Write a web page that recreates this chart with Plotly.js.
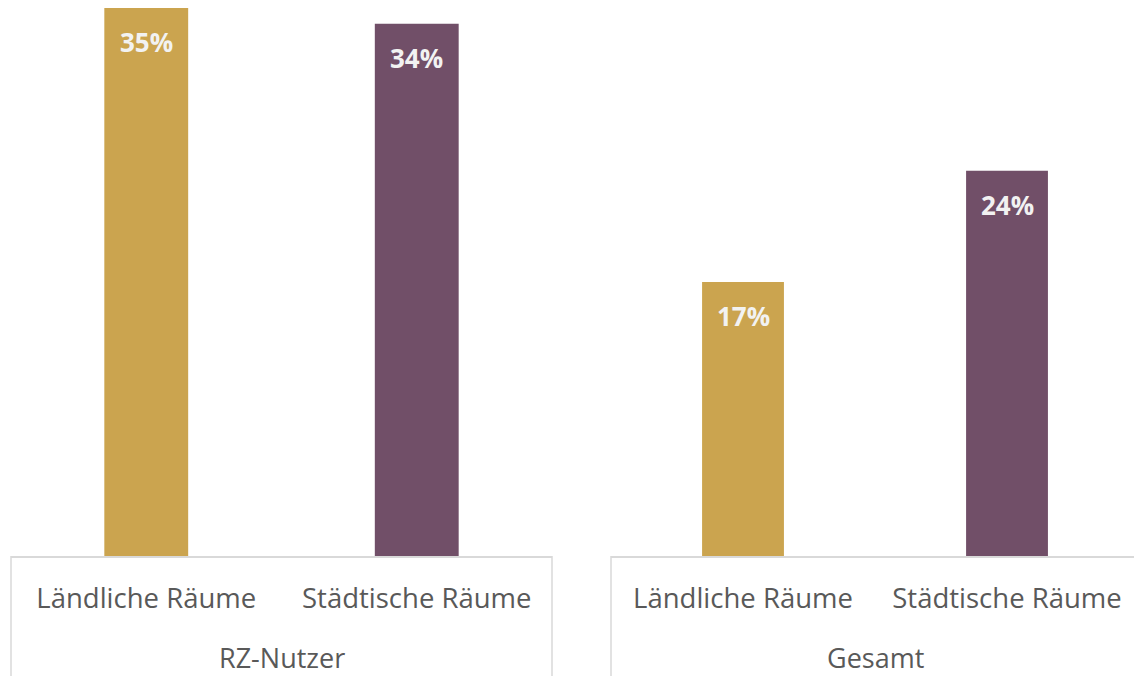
<!DOCTYPE html>
<html>
<head>
<meta charset="utf-8">
<script src="https://cdn.plot.ly/plotly-3.0.1.min.js"></script>
<style>html,body{margin:0;padding:0;background:#fff;}#chart{width:1134px;height:676px;}</style>
</head>
<body>
<div id="chart"></div>
<script>
const groups = ["RZ-Nutzer", "Gesamt"];
const categories = ["Ländliche Räume", "Städtische Räume"];
const valuesRZ = [35, 34];
const valuesGesamt = [17.5, 24.6];
const labelsRZ = ["35%", "34%"];
const labelsGesamt = ["17%", "24%"];
const barColors = ["#CBA44F", "#714F68"];

const FONT = "Open Sans, Noto Sans, sans-serif";

const traces = [
  {type: "bar", x: categories, y: valuesRZ, xaxis: "x", yaxis: "y",
   marker: {color: barColors}, width: 0.31, hoverinfo: "skip"},
  {type: "bar", x: categories, y: valuesGesamt, xaxis: "x2", yaxis: "y",
   marker: {color: barColors}, width: 0.31, hoverinfo: "skip"}
];

const annotations = [];
[[valuesRZ, labelsRZ, "x"], [valuesGesamt, labelsGesamt, "x2"]].forEach(([vals, labs, xr]) => {
  vals.forEach((v, i) => {
    annotations.push({xref: xr, yref: "y", x: i, y: v, text: "<b>" + labs[i] + "</b>",
      showarrow: false, yanchor: "middle", yshift: -34,
      font: {family: FONT, size: 26, color: "#F2F2F2"}});
  });
});
groups.forEach((g, k) => {
  annotations.push({xref: k === 0 ? "x" : "x2", yref: "paper", x: 0.5, y: 0, yshift: -101,
    text: g, showarrow: false, yanchor: "middle",
    font: {family: FONT, size: 27, color: "#595959"}});
});

const lineStyle = {color: "#D9D9D9", width: 1.5};
const panelEdges = [11, 552, 611];
const shapes = panelEdges.map(px => ({type: "line", xref: "paper", yref: "paper",
  x0: px / 1134, x1: px / 1134, y0: 0, y1: -0.3, line: lineStyle}));

const xaxisBase = {type: "category", showline: true, linecolor: "#D9D9D9", linewidth: 1.5,
  showgrid: false, zeroline: false, ticks: "", ticklabelstandoff: 17,
  tickfont: {family: FONT, size: 27.5, color: "#595959"}, fixedrange: true};

const layout = {
  width: 1134, height: 676,
  margin: {l: 0, r: 0, t: 8, b: 120},
  paper_bgcolor: "#ffffff", plot_bgcolor: "#ffffff",
  showlegend: false,
  xaxis: Object.assign({}, xaxisBase, {domain: [11 / 1134, 552 / 1134], range: [-0.5, 1.5]}),
  xaxis2: Object.assign({}, xaxisBase, {domain: [611 / 1134, 1], range: [-0.5, 1.481], anchor: "y"}),
  yaxis: {range: [0, 35], visible: false, showgrid: false, zeroline: false, fixedrange: true},
  annotations: annotations,
  shapes: shapes
};

Plotly.newPlot("chart", traces, layout, {displayModeBar: false, staticPlot: true});
</script>
</body>
</html>
